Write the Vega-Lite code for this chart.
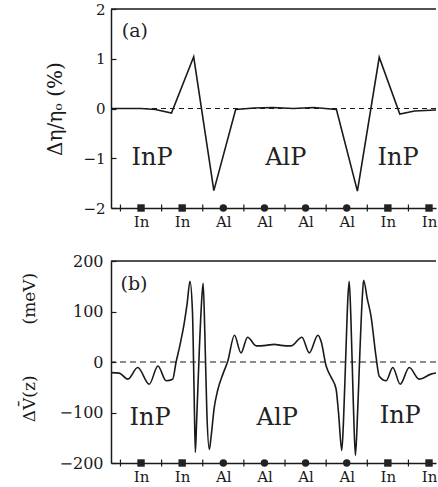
{
  "$schema": "https://vega.github.io/schema/vega-lite/v6.json",
  "padding": {"left": 20, "top": 2, "right": 0, "bottom": 0},
  "spacing": 24,
  "config": {
    "font": "DejaVu Serif",
    "view": {"stroke": null},
    "axis": {"domainColor": "#1a1a1a", "domainWidth": 1.5, "tickColor": "#1a1a1a", "tickWidth": 1.2, "labelColor": "#1a1a1a", "titleColor": "#1a1a1a", "grid": false, "labelFont": "DejaVu Serif", "titleFont": "DejaVu Serif", "titleFontWeight": "normal", "labelOverlap": false, "labelFlush": false, "labelBound": false}
  },
  "datasets": {
    "eta": [
      {"z": -0.73, "v": 0}, {"z": 0.0, "v": 0}, {"z": 0.35, "v": -0.02}, {"z": 0.74, "v": -0.09},
      {"z": 1.28, "v": 1.04}, {"z": 1.77, "v": -1.65}, {"z": 2.3, "v": -0.02}, {"z": 2.75, "v": 0.01},
      {"z": 3.2, "v": 0.02}, {"z": 3.7, "v": 0.0}, {"z": 4.2, "v": 0.02}, {"z": 4.75, "v": -0.02},
      {"z": 5.26, "v": -1.66}, {"z": 5.79, "v": 1.03}, {"z": 6.29, "v": -0.11}, {"z": 6.65, "v": -0.05},
      {"z": 7.17, "v": -0.03}
    ],
    "dv": [
      {"z": -0.73, "v": -21}, {"z": -0.53, "v": -22}, {"z": -0.32, "v": -34}, {"z": -0.08, "v": -11},
      {"z": 0.2, "v": -44}, {"z": 0.41, "v": -8}, {"z": 0.61, "v": -37}, {"z": 0.77, "v": -34},
      {"z": 0.85, "v": -1}, {"z": 0.95, "v": 35}, {"z": 1.05, "v": 77}, {"z": 1.12, "v": 115},
      {"z": 1.19, "v": 160}, {"z": 1.25, "v": 100}, {"z": 1.29, "v": -60}, {"z": 1.32, "v": -179},
      {"z": 1.35, "v": -120}, {"z": 1.42, "v": 30}, {"z": 1.48, "v": 130}, {"z": 1.51, "v": 156},
      {"z": 1.55, "v": 60}, {"z": 1.6, "v": -100}, {"z": 1.66, "v": -173}, {"z": 1.7, "v": -150},
      {"z": 1.78, "v": -90}, {"z": 1.86, "v": -57}, {"z": 1.99, "v": -24}, {"z": 2.11, "v": 2},
      {"z": 2.27, "v": 53}, {"z": 2.43, "v": 18}, {"z": 2.59, "v": 49}, {"z": 2.8, "v": 32},
      {"z": 3.04, "v": 33}, {"z": 3.24, "v": 35}, {"z": 3.4, "v": 33}, {"z": 3.65, "v": 32},
      {"z": 3.91, "v": 49}, {"z": 4.09, "v": 18}, {"z": 4.3, "v": 53}, {"z": 4.38, "v": 40},
      {"z": 4.5, "v": -8}, {"z": 4.62, "v": -30}, {"z": 4.74, "v": -53}, {"z": 4.8, "v": -100},
      {"z": 4.88, "v": -175}, {"z": 4.92, "v": -120}, {"z": 4.98, "v": 20}, {"z": 5.03, "v": 130},
      {"z": 5.06, "v": 160}, {"z": 5.1, "v": 90}, {"z": 5.16, "v": -80}, {"z": 5.21, "v": -185},
      {"z": 5.25, "v": -130}, {"z": 5.32, "v": 20}, {"z": 5.38, "v": 130}, {"z": 5.41, "v": 162},
      {"z": 5.5, "v": 125}, {"z": 5.59, "v": 91}, {"z": 5.71, "v": 12}, {"z": 5.79, "v": -28},
      {"z": 5.96, "v": -37}, {"z": 6.12, "v": -11}, {"z": 6.3, "v": -44}, {"z": 6.52, "v": -11},
      {"z": 6.76, "v": -34}, {"z": 7.05, "v": -24}, {"z": 7.22, "v": -21}
    ],
    "atoms": [
      {"z": 0, "atom": "In"}, {"z": 1, "atom": "In"}, {"z": 2, "atom": "Al"}, {"z": 3, "atom": "Al"},
      {"z": 4, "atom": "Al"}, {"z": 5, "atom": "Al"}, {"z": 6, "atom": "In"}, {"z": 7, "atom": "In"}
    ],
    "halfTicks": [
      {"z": -0.5}, {"z": 0.5}, {"z": 1.5}, {"z": 2.5}, {"z": 3.5}, {"z": 4.5}, {"z": 5.5}, {"z": 6.5}
    ],
    "labA": [
      {"z": 0.27, "v": -1, "t": "InP"}, {"z": 3.52, "v": -1, "t": "AlP"}, {"z": 6.25, "v": -1, "t": "InP"}
    ],
    "tagA": [{"z": -0.15, "v": 1.56, "t": "(a)"}],
    "labB": [
      {"z": 0.22, "v": -111, "t": "InP"}, {"z": 3.31, "v": -110, "t": "AlP"}, {"z": 6.3, "v": -107, "t": "InP"}
    ],
    "tagB": [{"z": -0.17, "v": 154, "t": "(b)"}]
  },
  "vconcat": [
    {
      "width": 325,
      "height": 199,
      "layer": [
        {
          "data": {"name": "eta"},
          "mark": {"type": "line", "color": "#1a1a1a", "strokeWidth": 1.6, "clip": true},
          "encoding": {
            "x": {"field": "z", "type": "quantitative", "scale": {"domain": [-0.73, 7.17], "nice": false, "zero": false},
              "axis": {"values": [0, 1, 2, 3, 4, 5, 6, 7], "labelExpr": "(datum.value >= 2 && datum.value <= 5) ? 'Al' : 'In'", "ticks": false, "labelPadding": 6, "labelFontSize": 15, "labelOverlap": false, "labelFlush": false, "labelBound": false, "title": null}},
            "y": {"field": "v", "type": "quantitative", "scale": {"domain": [-2, 2], "nice": false},
              "axis": {"values": [-2, -1, 0, 1, 2], "tickSize": -5, "labelPadding": 11, "labelFontSize": 15,
                "title": "Δη/ηₒ (%)", "titleFontSize": 20, "titlePadding": 17}}
          }
        },
        {
          "data": {"values": [{}]},
          "mark": {"type": "rule", "strokeDash": [5, 4], "color": "#1a1a1a", "strokeWidth": 1.2},
          "encoding": {"y": {"datum": 0}}
        },
        {
          "data": {"values": [{}]},
          "mark": {"type": "rule", "color": "#1a1a1a", "strokeWidth": 1.5},
          "encoding": {"y": {"datum": 2}}
        },
        {
          "data": {"name": "halfTicks"},
          "mark": {"type": "tick", "orient": "vertical", "size": 7, "thickness": 1.2, "color": "#1a1a1a", "opacity": 1},
          "encoding": {
            "x": {"field": "z", "type": "quantitative", "scale": {"domain": [-0.73, 7.17], "nice": false, "zero": false},
              "axis": {"values": [0, 1, 2, 3, 4, 5, 6, 7], "labelExpr": "(datum.value >= 2 && datum.value <= 5) ? 'Al' : 'In'", "ticks": false, "labelPadding": 6, "labelFontSize": 15, "labelOverlap": false, "labelFlush": false, "labelBound": false, "title": null}},
            "y": {"datum": -2}
          }
        },
        {
          "data": {"name": "atoms"},
          "mark": {"type": "point", "filled": true, "opacity": 1, "size": 55, "color": "#222"},
          "encoding": {
            "x": {"field": "z", "type": "quantitative", "scale": {"domain": [-0.73, 7.17], "nice": false, "zero": false},
              "axis": {"values": [0, 1, 2, 3, 4, 5, 6, 7], "labelExpr": "(datum.value >= 2 && datum.value <= 5) ? 'Al' : 'In'", "ticks": false, "labelPadding": 6, "labelFontSize": 15, "labelOverlap": false, "labelFlush": false, "labelBound": false, "title": null}},
            "y": {"datum": -2},
            "shape": {"field": "atom", "type": "nominal", "scale": {"domain": ["In", "Al"], "range": ["square", "circle"]}, "legend": null}
          }
        },
        {
          "data": {"name": "labA"},
          "mark": {"type": "text", "fontSize": 24, "font": "DejaVu Serif", "color": "#222", "baseline": "middle"},
          "encoding": {
            "x": {"field": "z", "type": "quantitative", "scale": {"domain": [-0.73, 7.17], "nice": false, "zero": false},
              "axis": {"values": [0, 1, 2, 3, 4, 5, 6, 7], "labelExpr": "(datum.value >= 2 && datum.value <= 5) ? 'Al' : 'In'", "ticks": false, "labelPadding": 6, "labelFontSize": 15, "labelOverlap": false, "labelFlush": false, "labelBound": false, "title": null}},
            "y": {"field": "v", "type": "quantitative"},
            "text": {"field": "t"}
          }
        },
        {
          "data": {"name": "tagA"},
          "mark": {"type": "text", "fontSize": 19, "font": "DejaVu Serif", "color": "#222", "baseline": "middle"},
          "encoding": {
            "x": {"field": "z", "type": "quantitative", "scale": {"domain": [-0.73, 7.17], "nice": false, "zero": false},
              "axis": {"values": [0, 1, 2, 3, 4, 5, 6, 7], "labelExpr": "(datum.value >= 2 && datum.value <= 5) ? 'Al' : 'In'", "ticks": false, "labelPadding": 6, "labelFontSize": 15, "labelOverlap": false, "labelFlush": false, "labelBound": false, "title": null}},
            "y": {"field": "v", "type": "quantitative"},
            "text": {"field": "t"}
          }
        }
      ]
    },
    {
      "width": 325,
      "height": 202,
      "layer": [
        {
          "data": {"name": "dv"},
          "mark": {"type": "line", "color": "#1a1a1a", "strokeWidth": 1.6, "clip": true, "interpolate": "monotone"},
          "encoding": {
            "x": {"field": "z", "type": "quantitative", "scale": {"domain": [-0.73, 7.17], "nice": false, "zero": false},
              "axis": {"values": [0, 1, 2, 3, 4, 5, 6, 7], "labelExpr": "(datum.value >= 2 && datum.value <= 5) ? 'Al' : 'In'", "ticks": false, "labelPadding": 6, "labelFontSize": 15, "labelOverlap": false, "labelFlush": false, "labelBound": false, "title": null}},
            "y": {"field": "v", "type": "quantitative", "scale": {"domain": [-200, 200], "nice": false},
              "axis": {"values": [-200, -100, 0, 100, 200], "tickSize": -5, "labelPadding": 13, "labelFontSize": 16,
                "title": "ΔV̄(z)\u2003\u2003\u2003(meV)", "titleFontSize": 17, "titlePadding": 21, "titleY": 86}}
          }
        },
        {
          "data": {"values": [{}]},
          "mark": {"type": "rule", "strokeDash": [6, 4], "color": "#1a1a1a", "strokeWidth": 1.2},
          "encoding": {"y": {"datum": 0}}
        },
        {
          "data": {"values": [{}]},
          "mark": {"type": "rule", "color": "#1a1a1a", "strokeWidth": 1.5},
          "encoding": {"y": {"datum": 200}}
        },
        {
          "data": {"name": "halfTicks"},
          "mark": {"type": "tick", "orient": "vertical", "size": 7, "thickness": 1.2, "color": "#1a1a1a", "opacity": 1},
          "encoding": {
            "x": {"field": "z", "type": "quantitative", "scale": {"domain": [-0.73, 7.17], "nice": false, "zero": false},
              "axis": {"values": [0, 1, 2, 3, 4, 5, 6, 7], "labelExpr": "(datum.value >= 2 && datum.value <= 5) ? 'Al' : 'In'", "ticks": false, "labelPadding": 6, "labelFontSize": 15, "labelOverlap": false, "labelFlush": false, "labelBound": false, "title": null}},
            "y": {"datum": -200}
          }
        },
        {
          "data": {"name": "atoms"},
          "mark": {"type": "point", "filled": true, "opacity": 1, "size": 55, "color": "#222"},
          "encoding": {
            "x": {"field": "z", "type": "quantitative", "scale": {"domain": [-0.73, 7.17], "nice": false, "zero": false},
              "axis": {"values": [0, 1, 2, 3, 4, 5, 6, 7], "labelExpr": "(datum.value >= 2 && datum.value <= 5) ? 'Al' : 'In'", "ticks": false, "labelPadding": 6, "labelFontSize": 15, "labelOverlap": false, "labelFlush": false, "labelBound": false, "title": null}},
            "y": {"datum": -200},
            "shape": {"field": "atom", "type": "nominal", "scale": {"domain": ["In", "Al"], "range": ["square", "circle"]}, "legend": null}
          }
        },
        {
          "data": {"name": "labB"},
          "mark": {"type": "text", "fontSize": 24, "font": "DejaVu Serif", "color": "#222", "baseline": "middle"},
          "encoding": {
            "x": {"field": "z", "type": "quantitative", "scale": {"domain": [-0.73, 7.17], "nice": false, "zero": false},
              "axis": {"values": [0, 1, 2, 3, 4, 5, 6, 7], "labelExpr": "(datum.value >= 2 && datum.value <= 5) ? 'Al' : 'In'", "ticks": false, "labelPadding": 6, "labelFontSize": 15, "labelOverlap": false, "labelFlush": false, "labelBound": false, "title": null}},
            "y": {"field": "v", "type": "quantitative"},
            "text": {"field": "t"}
          }
        },
        {
          "data": {"name": "tagB"},
          "mark": {"type": "text", "fontSize": 19, "font": "DejaVu Serif", "color": "#222", "baseline": "middle"},
          "encoding": {
            "x": {"field": "z", "type": "quantitative", "scale": {"domain": [-0.73, 7.17], "nice": false, "zero": false},
              "axis": {"values": [0, 1, 2, 3, 4, 5, 6, 7], "labelExpr": "(datum.value >= 2 && datum.value <= 5) ? 'Al' : 'In'", "ticks": false, "labelPadding": 6, "labelFontSize": 15, "labelOverlap": false, "labelFlush": false, "labelBound": false, "title": null}},
            "y": {"field": "v", "type": "quantitative"},
            "text": {"field": "t"}
          }
        }
      ]
    }
  ]
}
